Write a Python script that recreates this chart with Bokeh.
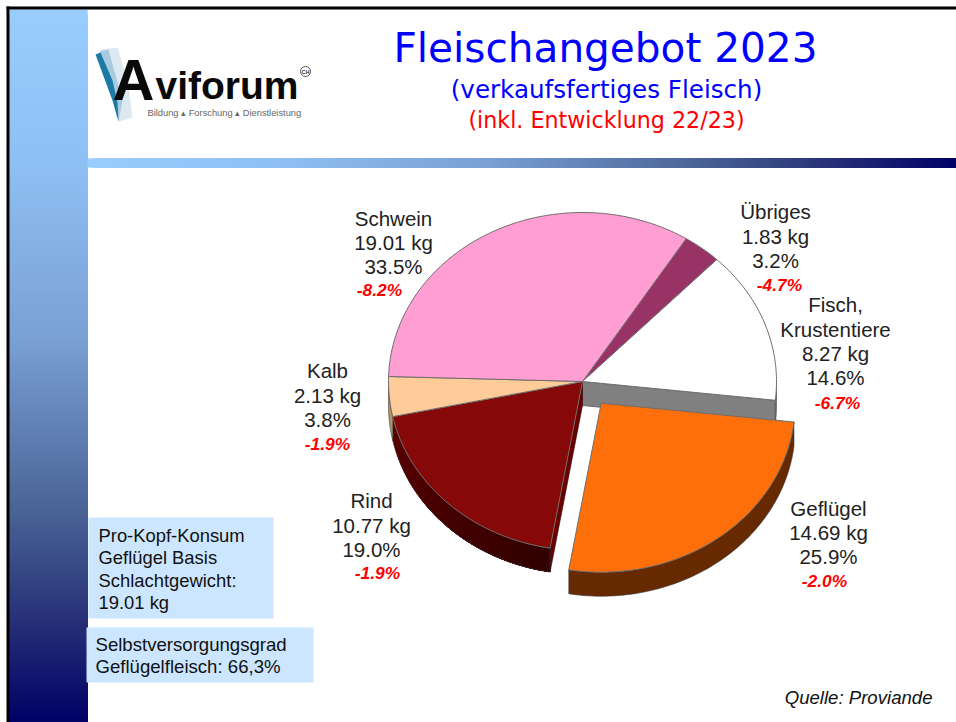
import math
from bokeh.plotting import figure
from bokeh.models import Range1d
from bokeh.core.properties import value
from bokeh.embed import file_html
from bokeh.resources import INLINE

# ---------- data ----------
categories = ["Übriges", "Fisch,\nKrustentiere", "Geflügel", "Rind", "Kalb", "Schwein"]
kg = ["1.83 kg", "8.27 kg", "14.69 kg", "10.77 kg", "2.13 kg", "19.01 kg"]
shares = [3.2, 14.6, 25.9, 19.0, 3.8, 33.5]
changes = ["-4.7%", "-6.7%", "-2.0%", "-1.9%", "-1.9%", "-8.2%"]
top_colors = ["#993366", "#ffffff", "#ff6f09", "#860808", "#ffcc99", "#ff9ed2"]
side_colors = ["#5c1f3d", "#9a9a9a", "#662900", "#4a0000", "#b8935f", "#99608a"]
title = "Fleischangebot 2023"
subtitle = "(verkaufsfertiges Fleisch)"
subtitle2 = "(inkl. Entwicklung 22/23)"
box1_lines = ["Pro-Kopf-Konsum", "Geflügel Basis", "Schlachtgewicht:", "19.01 kg"]
box2_lines = ["Selbstversorgungsgrad", "Geflügelfleisch: 66,3%"]
source_note = "Quelle: Proviande"

# ---------- layout ----------
W, H = 956, 722
CX, CY, RX, RY, DEPTH = 584, 381, 194, 169, 24
START = 57.7          # angle of the Schwein / Übriges boundary, clockwise from here
EXPLODE = {"Geflügel": (18.7, 21.7)}
ANCHORS = {"Übriges": (776, 211.3), "Fisch,\nKrustentiere": (836, 304.3), "Geflügel": (829, 507.6),
           "Rind": (372, 500.3), "Kalb": (328, 370.3), "Schwein": (394, 217.6)}
RED_ANCHORS = {"Übriges": (780, 284), "Fisch,\nKrustentiere": (838, 402), "Geflügel": (825, 580),
               "Rind": (378, 572), "Kalb": (328, 443), "Schwein": (380, 289)}
LINE_STEP = 24.2
GRAD = [(0.0, (153, 204, 255)), (0.21, (143, 192, 245)), (0.46, (122, 160, 212)),
        (0.70, (74, 100, 150)), (0.85, (40, 50, 120)), (1.0, (0, 0, 102))]

p = figure(width=W, height=H, output_backend="svg", toolbar_location=None,
           x_range=Range1d(2, W + 2), y_range=Range1d(H, 0),
           min_border=0, x_axis_type=None, y_axis_type=None)
p.grid.visible = False
p.outline_line_color = None
p.background_fill_color = "#ffffff"
p.border_fill_color = "#ffffff"


def grad_hex(t):
    for (t0, a), (t1, b) in zip(GRAD, GRAD[1:]):
        if t <= t1:
            f = (t - t0) / (t1 - t0)
            return "#%02x%02x%02x" % tuple(round(a[i] + (b[i] - a[i]) * f) for i in range(3))
    return "#000066"


# frame and gradient panels (each strip runs to the end so no seams show)
ys = list(range(9, H, 2))
p.quad(left=11, right=89, top=ys, bottom=H,
       fill_color=[grad_hex((y - 9) / (H - 9)) for y in ys], line_color=None)
xs = list(range(89, W + 3, 3))
p.quad(left=xs, right=W + 2, top=158, bottom=167,
       fill_color=[grad_hex((x - 88) / (W - 88)) for x in xs], line_color=None)
p.quad(left=8, right=W + 2, top=6, bottom=9, fill_color="#000000", line_color=None)
p.quad(left=8, right=11, top=6, bottom=H, fill_color="#000000", line_color=None)


# pie
def point(t, ox=0, oy=0, dz=0):
    r = math.radians(t)
    return CX + ox + RX * math.cos(r), CY + oy - RY * math.sin(r) + dz


def arc(t0, t1, ox=0, oy=0, dz=0):
    n = max(2, int(abs(t1 - t0)))
    return [point(t0 + (t1 - t0) * i / n, ox, oy, dz) for i in range(n + 1)]


def shade(col, f):
    c = [int(col[i:i + 2], 16) for i in (1, 3, 5)]
    return "#%02x%02x%02x" % tuple(max(0, min(255, round(v * f))) for v in c)


def poly(pts, fill, line="#5a5a5a", lw=0.8):
    p.patch([q[0] for q in pts], [q[1] for q in pts], fill_color=fill, line_color=line, line_width=lw)


slices = []
t = START
for cat, share, tc, sc in zip(categories, shares, top_colors, side_colors):
    t1 = t - share * 3.6
    slices.append(dict(cat=cat, t0=t, t1=t1, top=tc, side=sc))
    t = t1

# non-exploded first, exploded on top
order = [s for s in slices if s["cat"] not in EXPLODE] + [s for s in slices if s["cat"] in EXPLODE]
for s in order:
    ox, oy = EXPLODE.get(s["cat"], (0, 0))
    apex = (CX + ox, CY + oy)
    a, b = s["t0"], s["t1"]
    # cut faces left open by the pulled-out slice
    if s["cat"].startswith("Fisch"):
        e = point(b)
        poly([apex, e, (e[0], e[1] + DEPTH), (apex[0], apex[1] + DEPTH)], "#808080")
    if s["cat"] == "Rind":
        e = point(a)
        poly([apex, e, (e[0], e[1] + DEPTH), (apex[0], apex[1] + DEPTH)], "#6a0000", line="#3a0000", lw=0.6)
    # outer wall, front half only
    lo, hi = min(a, b), max(a, b)
    l, h = max(lo, -180), min(hi, 0)
    if h > l:
        nseg = 24 if s["cat"] == "Rind" else 1
        for i in range(nseg):
            u0 = l + (h - l) * i / nseg
            f = 1.2 - 0.55 * i / nseg if s["cat"] == "Rind" else 1.0
            poly(arc(u0, h, ox, oy) + arc(h, u0, ox, oy, DEPTH), shade(s["side"], f), line=None)
        poly(arc(l, h, ox, oy) + arc(h, l, ox, oy, DEPTH), None, line="#3a3a3a", lw=0.6)
    # top surface
    poly([apex] + arc(a, b, ox, oy), s["top"], line="#6e6e6e", lw=1)

# info boxes
p.quad(left=90, right=275, top=517, bottom=618, fill_color="#cce6ff", line_color=None)
p.quad(left=88, right=315, top=627, bottom=682, fill_color="#cce6ff", line_color=None)


def txt(x, y, s, size, color="#111111", align="left", font="Liberation Sans", style="normal"):
    p.text([x], [y], text=[s], text_font=value(font), text_font_size=f"{size}px",
           text_color=color, text_align=align, text_baseline="middle", text_font_style=style)


for i, s in enumerate(box1_lines):
    txt(100, 535 + i * 22.4, s, 18.4)
for i, s in enumerate(box2_lines):
    txt(97, 644 + i * 22.4, s, 18.6)

txt(607, 47, title, 40.6, "#0000ff", "center", "DejaVu Sans")
txt(608, 89, subtitle, 24.6, "#0000ff", "center", "DejaVu Sans")
txt(608, 119, subtitle2, 22.2, "#ff0000", "center", "DejaVu Sans")
txt(934, 697, source_note, 18.6, "#111111", "right", style="italic")

# pie labels
for cat, k, sh, ch in zip(categories, kg, shares, changes):
    x, y = ANCHORS[cat]
    lines = cat.split("\n") + [k, f"{sh}%"]
    for i, s in enumerate(lines):
        txt(x + 1, y + i * LINE_STEP, s, 20.5, "#222222", "center")
    rx, ry = RED_ANCHORS[cat]
    txt(rx + 1, ry, ch, 17.4, "#ff0000", "center", style="bold italic")

# logo
poly([(102, 49), (119, 47), (130, 85), (134, 117), (121, 121)], "#dde8f1", line=None)
poly([(101, 51), (110, 49), (124, 100), (120, 121)], "#a9cbe0", line=None)
poly([(97, 54), (102, 52), (114, 80), (119, 102), (120, 121), (114, 100)], "#1b7aa6", line=None)
txt(114, 79, "A", 58, "#0a0a0a", style="bold")
txt(157, 85, "viforum", 39, "#0a0a0a", style="bold")
txt(149, 112, "Bildung ▴ Forschung ▴ Dienstleistung", 9.3, "#666666")
p.circle([307], [71], radius=5, fill_color=None, line_color="#333333", line_width=0.8)
txt(307, 71, "CH", 5.5, "#333333", "center", style="bold")

open("out.html", "w").write(file_html(p, INLINE))
